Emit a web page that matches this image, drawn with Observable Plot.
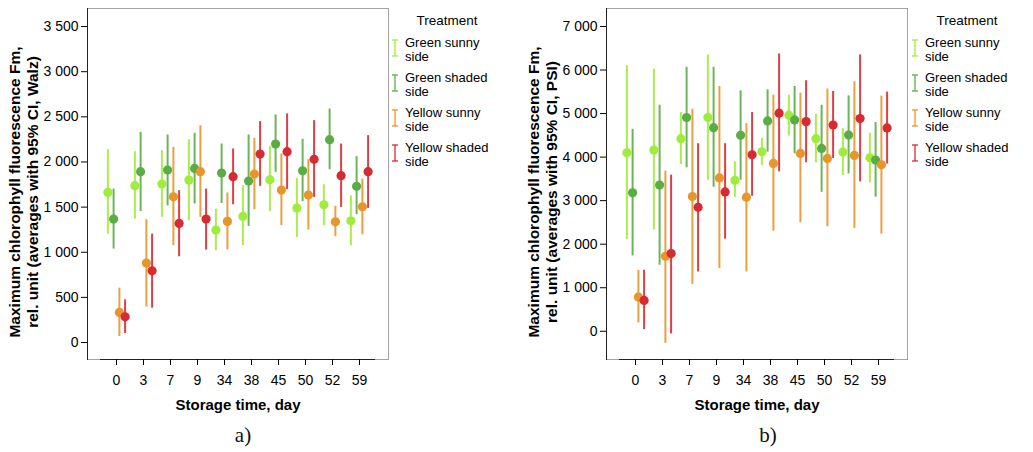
<!DOCTYPE html>
<html><head><meta charset="utf-8">
<script src="https://cdn.jsdelivr.net/npm/d3@7"></script>
<script src="https://cdn.jsdelivr.net/npm/@observablehq/plot@0.6"></script>
<style>
body{margin:0;background:#fff;font-family:"Liberation Sans",Arial,sans-serif;}
#wrap{position:relative;width:1033px;height:452px;overflow:hidden;background:#fff;}
.panel{position:absolute;top:0;}
.legend{position:absolute;top:0;width:120px;height:200px;font-size:13px;color:#000;}
.legend .title{position:absolute;top:13px;left:0;width:112px;text-align:center;line-height:16px;font-size:13.5px;}
.legend .item{position:absolute;left:0;}
.legend .item svg{position:absolute;left:0;top:3px;}
.legend .item .lab{position:absolute;left:14px;white-space:nowrap;line-height:13px;height:13px;}
.caption{position:absolute;top:423px;font-family:"Liberation Serif","Times New Roman",serif;font-size:21px;color:#111;transform:translateX(-50%);}
</style></head><body><div id="wrap"></div>
<script>
const days = ["0","3","7","9","34","38","45","50","52","59"];
const treatments = ["Green sunny side","Green shaded side","Yellow sunny side","Yellow shaded side"];
const treatmentColors = ["#a0ec3c","#5aad45","#e8952b","#d62b33"];

// Panel a (Walz): [mean, lower 95% CI, upper 95% CI] per storage day
const walzGreenSunny  = [[1663,1201,2136],[1737,1367,2114],[1756,1386,2125],[1800,1349,2247],[1246,1016,1478],[1397,1072,1737],[1804,1449,2173],[1490,1164,1818],[1526,1294,1748],[1349,1072,1626]];
const walzGreenShaded = [[1367,1035,1700],[1892,1452,2328],[1911,1515,2299],[1929,1534,2317],[1877,1541,2199],[1789,1286,2299],[2199,1885,2521],[1903,1560,2251],[2247,1915,2587],[1730,1416,2059]];
const walzYellowSunny = [[333,67,602],[880,395,1360],[1615,1072,2162],[1892,1386,2402],[1342,1027,1656],[1866,1471,2262],[1689,1294,2088],[1634,1246,2025],[1338,1172,1508],[1504,1194,1811]];
const walzYellowShaded= [[285,100,473],[795,381,1201],[1319,950,1682],[1367,1024,1700],[1837,1526,2144],[2088,1730,2447],[2114,1693,2532],[2029,1608,2458],[1848,1497,2199],[1892,1486,2292]];

// Panel b (PSI)
const psiGreenSunny   = [[4100,2109,6100],[4162,2323,6023],[4423,3831,5023],[4908,3469,6346],[3469,3078,3892],[4123,3808,4431],[4962,4485,5423],[4423,3869,4985],[4115,3577,4654],[3985,3408,4546]];
const psiGreenShaded  = [[3180,1731,4638],[3360,1516,5192],[4908,3754,6062],[4677,3308,6062],[4500,3469,5523],[4831,4115,5546],[4854,4077,5623],[4200,3192,5192],[4508,3615,5408],[3931,3078,4792]];
const psiYellowSunny  = [[785,193,1400],[1723,-277,3677],[3093,1078,5100],[3523,1440,5623],[3080,1362,4769],[3854,2300,5423],[4085,2492,5469],[3969,2400,5562],[4038,2362,5731],[3824,2231,5400]];
const psiYellowShaded = [[708,38,1400],[1785,-61,3585],[2848,1362,4308],[3200,2116,4308],[4054,3100,5023],[5008,3662,6369],[4815,3869,5754],[4738,3969,5508],[4885,3431,6346],[4671,3840,5493]];

const walzTicks = [0,500,1000,1500,2000,2500,3000,3500];
const psiTicks = [0,1000,2000,3000,4000,5000,6000,7000];
const walzDomain = [-188, 3700];
const psiDomain = [-648, 7413];
const walzTitle = "Maximum chlorophyll fluorescence Fm,\nrel. unit (averages with 95% CI, Walz)";
const psiTitle = "Maximum chlorophyll fluorescence Fm,\nrel. unit (averages with 95% CI, PSI)";
const xTitle = "Storage time, day";

const dodge = [-8.6, -2.9, 2.9, 8.6];
const fmt = d => d3.format(",")(d).replace(/,/g, " ");

function toRows(seriesList) {
  return seriesList.map((s, i) => s.map((v, j) => ({day: days[j], t: treatments[i], mean: v[0], lo: v[1], hi: v[2]})));
}

function panel(seriesList, yDomain, yTicks, yTitle) {
  const groups = toRows(seriesList);
  const marks = [
    Plot.frame({stroke: "#a3a3a3"}),
    Plot.frame({anchor: "left", stroke: "#222"}),
    Plot.ruleY([yDomain[0]], {insetLeft: 13, insetRight: 13, stroke: "#222"}),
    Plot.axisY(yTicks, {tickSize: 6, tickPadding: 3, tickFormat: fmt, fontSize: 14, label: null}),
    Plot.axisX({tickSize: 6, tickPadding: 10, fontSize: 14, label: null}),
    Plot.text([yTitle], {frameAnchor: "left", textAnchor: "middle", lineAnchor: "middle", rotate: -90, dx: -64, dy: 8, fontSize: 15.5, fontWeight: "bold", lineHeight: 1.16}),
    Plot.text([xTitle], {frameAnchor: "bottom", dy: 50, fontSize: 15, fontWeight: "bold"})
  ];
  groups.forEach((rows, i) => {
    marks.push(Plot.ruleX(rows, {x: "day", y1: "lo", y2: "hi", stroke: "t", strokeWidth: 2, strokeOpacity: 0.9, dx: dodge[i]}));
  });
  groups.forEach((rows, i) => {
    marks.push(Plot.dot(rows, {x: "day", y: "mean", r: 4.6, fill: "t", stroke: "none", dx: dodge[i]}));
  });
  return Plot.plot({
    width: 390, height: 420,
    marginLeft: 87, marginRight: 2, marginTop: 8, marginBottom: 61,
    style: {fontFamily: "'Liberation Sans', Arial, sans-serif", fontSize: "14px", color: "#000", background: "white", overflow: "visible"},
    x: {type: "point", domain: days, padding: 0.98, axis: null},
    y: {domain: yDomain, axis: null},
    color: {domain: treatments, range: treatmentColors},
    marks
  });
}

function legend(left) {
  const div = document.createElement("div");
  div.className = "legend";
  div.style.left = left + "px";
  const title = document.createElement("div");
  title.className = "title";
  title.textContent = "Treatment";
  div.appendChild(title);
  treatments.forEach((t, i) => {
    const it = document.createElement("div");
    it.className = "item";
    it.style.top = (36 + i * 35) + "px";
    const c = treatmentColors[i];
    it.innerHTML = `<svg width="8" height="18"><line x1="4" y1="1" x2="4" y2="17" stroke="${c}" stroke-width="1.3"/><line x1="1" y1="1" x2="7" y2="1" stroke="${c}" stroke-width="1.3"/><line x1="1" y1="17" x2="7" y2="17" stroke="${c}" stroke-width="1.3"/></svg>`;
    const words = t.split(" ");
    const lines = [words.slice(0, 2).join(" "), words.slice(2).join(" ")];
    lines.forEach((s, k) => {
      const lab = document.createElement("div");
      lab.className = "lab";
      lab.style.top = (k * 13.5) + "px";
      lab.textContent = s;
      it.appendChild(lab);
    });
    div.appendChild(it);
  });
  return div;
}

const wrap = document.getElementById("wrap");
const pa = panel([walzGreenSunny, walzGreenShaded, walzYellowSunny, walzYellowShaded], walzDomain, walzTicks, walzTitle);
pa.classList.add("panel"); pa.style.left = "0px";
wrap.appendChild(pa);
const pb = panel([psiGreenSunny, psiGreenShaded, psiYellowSunny, psiYellowShaded], psiDomain, psiTicks, psiTitle);
pb.classList.add("panel"); pb.style.left = "519px";
wrap.appendChild(pb);
wrap.appendChild(legend(391));
wrap.appendChild(legend(911));
const ca = document.createElement("div"); ca.className = "caption"; ca.style.left = "243px"; ca.textContent = "a)"; wrap.appendChild(ca);
const cb = document.createElement("div"); cb.className = "caption"; cb.style.left = "768px"; cb.textContent = "b)"; wrap.appendChild(cb);
</script></body></html>
